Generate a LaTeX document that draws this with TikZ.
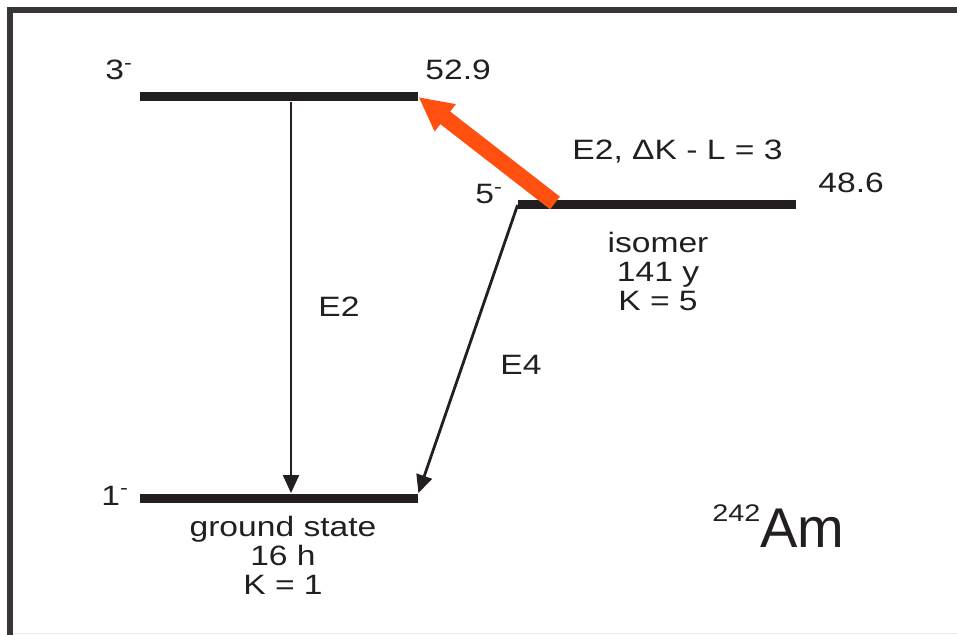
\documentclass[tikz,border=0pt]{standalone}
\usepackage{fontspec}
\setmainfont{Liberation Sans}[FakeStretch=1.2]
\newfontfamily\amfont{Liberation Sans}
\usetikzlibrary{positioning,arrows.meta}
\definecolor{decayorange}{RGB}{255,80,15}
\definecolor{inkblack}{RGB}{35,31,32}

\begin{document}
\begin{tikzpicture}[
  x=0.5pt, y=-0.5pt,
  every node/.style={font=\fontsize{14}{14.5}\selectfont, text=inkblack, inner sep=0pt},
  level/.style={rectangle, fill=inkblack, minimum width=139pt, minimum height=4.5pt},
  lbl/.style={anchor=base west},
  info/.style={anchor=north, align=center},
  gamma/.style={-{Triangle[length=9pt,width=8pt]}, line width=1pt, draw=inkblack},
  isogamma/.style={-{Triangle[length=17pt,width=16pt]}, line width=8pt, draw=decayorange}
]
\useasboundingbox (0,0) rectangle (957,635);
% Frame
\draw[line width=3pt, draw=inkblack!90] (10,635) -- (10,10) -- (957,10);
\draw[line width=0.5pt, draw=black!8] (13,633) -- (957,633);
% Levels
\node[level] (s3) at (279,97) {};
\node[level] (s5) at (657,205) {};
\node[level] (s1) at (279,498) {};
% Spins and energies
\node[lbl] (j3) at (105,80) {3\textsuperscript{-}};
\node[lbl] (e3) at (425,80) {52.9};
\node[lbl] (j5) at (475,204) {5\textsuperscript{-}};
\node[lbl] (e5) at (818,193) {48.6};
\node[lbl] (j1) at (101,505) {1\textsuperscript{-}};
% Level info
\node[info] (isoinfo) at (658,232) {isomer\\141 y\\K = 5};
\node[info] (gsinfo) at (283,516) {ground state\\16 h\\K = 1};
% Transitions
\coordinate (e2x) at (291,0);
\coordinate (isoOut) at (555,203);
\draw[gamma] (s3.south -| e2x) -- (s1.north -| e2x);
\draw[gamma, line width=1.4pt] (s5.west) -- (s1.north east);
\draw[isogamma] (isoOut) -- (s3.east);
\node[lbl] (e2lbl) at (318,317) {E2};
\node[lbl] (e4lbl) at (500,375) {E4};
\node[lbl] (kfbd) at (572,160) {E2, ΔK - L = 3};
% Nucleus
\node[lbl] (nuc) at (712,547) {\fontsize{12}{12}\selectfont\raisebox{13pt}{242}\amfont\fontsize{28}{28}\selectfont Am};
\end{tikzpicture}
\end{document}
